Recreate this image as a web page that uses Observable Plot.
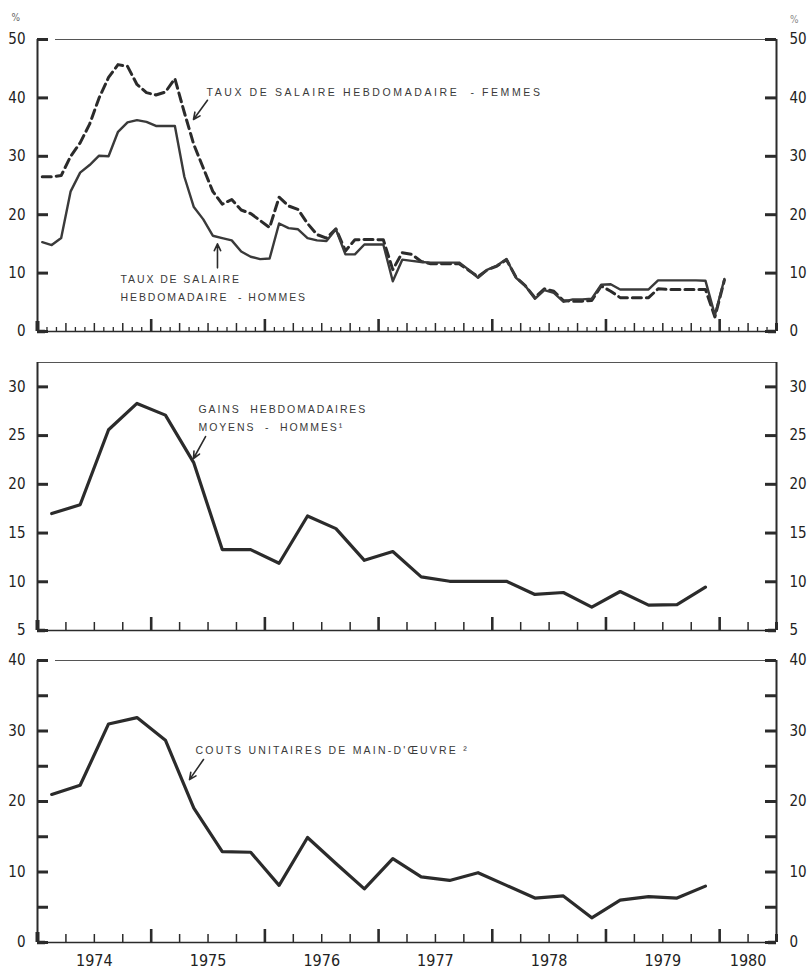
<!DOCTYPE html>
<html><head><meta charset="utf-8">
<script src="https://cdn.jsdelivr.net/npm/d3@7"></script>
<script src="https://cdn.jsdelivr.net/npm/@observablehq/plot@0.6"></script>
<style>
body{margin:0;background:#fff;}
#chart{position:relative;width:810px;height:975px;background:#fff;}
#chart svg{display:block;}
</style></head><body><div id="chart"></div>
<script>
// ---------- DATA ----------
const startYear = 1974;
const yearLabels = ["1974","1975","1976","1977","1978","1979","1980"];
const yearLabelAt = [1974.5,1975.5,1976.5,1977.5,1978.5,1979.5,1980.25];
const yearTicks = [1975,1976,1977,1978,1979,1980];

// monthly, Jan 1974 .. Jan 1980
const hommesHebdo = [15.3,14.8,16.0,24.0,27.2,28.5,30.1,30.0,34.2,35.8,36.2,35.9,
  35.2,35.2,35.2,26.5,21.3,19.2,16.4,16.0,15.6,13.7,12.8,12.4,
  12.5,18.5,17.7,17.5,16.0,15.6,15.5,17.5,13.2,13.2,14.9,14.9,
  14.9,8.6,12.3,12.1,11.9,11.8,11.8,11.8,11.8,10.6,9.2,10.6,
  11.3,12.4,9.2,7.8,5.6,7.1,6.6,5.1,5.5,5.5,5.6,8.0,
  8.1,7.2,7.2,7.2,7.2,8.75,8.75,8.75,8.75,8.75,8.7,2.8,
  9.0];
const femmesHebdo = [26.5,26.5,26.7,30.0,32.3,35.5,40.0,43.5,45.7,45.4,42.3,40.9,
  40.5,41.0,43.3,37.5,32.0,28.0,24.0,21.8,22.6,20.8,20.2,19.0,
  17.8,23.0,21.5,20.9,18.5,16.6,16.0,17.6,13.8,15.7,15.75,15.75,
  15.7,10.6,13.5,13.2,12.0,11.6,11.6,11.6,11.6,10.5,9.4,10.6,
  11.2,12.3,9.3,7.8,5.8,7.3,6.9,5.3,5.2,5.2,5.3,7.8,
  6.9,5.8,5.8,5.8,5.8,7.3,7.2,7.2,7.2,7.2,7.2,2.5,
  8.8];
// quarterly, 1974Q1 .. 1979Q4
const gainsHommes = [17.0,17.9,25.6,28.3, 27.1,22.2,13.3,13.3, 11.9,16.75,15.45,12.2,
  13.1,10.5,10.05,10.05, 10.05,8.7,8.9,7.4, 9.0,7.6,7.65,9.45];
const coutsUnitaires = [21.0,22.3,31.0,31.9, 28.7,19.05,12.9,12.8, 8.1,14.9,11.2,7.6,
  11.9,9.3,8.8,9.9, 8.1,6.3,6.6,3.5, 6.0,6.5,6.3,8.0];

const ticksTop = [0,10,20,30,40,50];
const ticksMid = [5,10,15,20,25,30];
const labelsBot = [0,10,20,30,40];
const ticksBot = [0,5,10,15,20,25,30,35,40];

const labelFemmes = "TAUX DE SALAIRE HEBDOMADAIRE  - FEMMES";
const labelHommes = "TAUX DE SALAIRE\nHEBDOMADAIRE  - HOMMES";
const labelGains = "GAINS  HEBDOMADAIRES\nMOYENS  -  HOMMES\u00b9";
const labelCouts = "COUTS UNITAIRES DE MAIN-D'\u0152UVRE \u00b2";

// ---------- HELPERS ----------
const monthly = arr => arr.map((v,i)=>({x: startYear + (i+0.5)/12, y: v}));
const quarterly = arr => arr.map((v,i)=>({x: startYear + (i+0.5)/4, y: v}));
const monthTicks = d3.range(1, 78).filter(k => k % 3 !== 0).map(k => startYear + k/12);
const quarterTicks = d3.range(1, 26).filter(k => k % 4 !== 0).map(k => startYear + k/4);

const INK = "#2b2b2b";
const FONT = "'Liberation Sans Narrow','DejaVu Sans Condensed','Arial Narrow',sans-serif";
const ANNOT = "'Liberation Sans','Open Sans',sans-serif";
const ML = 37, MR = 34, W = 810;
const X0 = 1974, X1 = 1980.5;

function panel({height, mt, mb, yDomain, labelTicks, tickVals, marks, topInset, minorTicks, minorLen, midTicks, midLen, yearLen, years}) {
  const iw = W - ML - MR, ih = height - mt - mb;
  const m = [
    Plot.ruleY([yDomain[1]], {stroke: "#555", strokeWidth: 1, insetLeft: topInset[0], insetRight: topInset[1]}),
    Plot.ruleY([yDomain[0]], {stroke: INK, strokeWidth: 1.3}),
    Plot.ruleX([X0], {stroke: INK, strokeWidth: 2}),
    Plot.ruleX([X1], {stroke: INK, strokeWidth: 2}),
    Plot.tickY(tickVals, {y: d=>d, stroke: INK, strokeWidth: 3, insetRight: iw - 11}),
    Plot.tickY(tickVals, {y: d=>d, stroke: INK, strokeWidth: 3, insetLeft: iw - 11}),
    // thick corners
    Plot.tickY([yDomain[0]], {y: d=>d, stroke: INK, strokeWidth: 3.5, insetRight: iw - 8}),
    Plot.tickY([yDomain[0]], {y: d=>d, stroke: INK, strokeWidth: 3.5, insetLeft: iw - 8}),
    Plot.tickX([X0], {x: d=>d, stroke: INK, strokeWidth: 4, insetTop: ih - 10}),
    Plot.tickX([X1], {x: d=>d, stroke: INK, strokeWidth: 3, insetTop: ih - 8}),
    Plot.axisY({anchor: "left", ticks: labelTicks, tickSize: 0, tickPadding: 12, label: null, tickFormat: d=>d, fill: "#222"}),
    Plot.axisY({anchor: "right", ticks: labelTicks, tickSize: 0, tickPadding: 13, label: null, tickFormat: d=>d, fill: "#222"})
  ];
  if (minorTicks) m.push(Plot.tickX(minorTicks, {x: d=>d, stroke: INK, strokeWidth: 1.3, insetTop: ih - minorLen}));
  if (midTicks) m.push(Plot.tickX(midTicks, {x: d=>d, stroke: INK, strokeWidth: 1.5, insetTop: ih - midLen}));
  m.push(Plot.tickX(yearTicks, {x: d=>d, stroke: INK, strokeWidth: 2.6, insetTop: ih - yearLen}));
  if (years) m.push(Plot.axisX({anchor: "bottom", ticks: yearLabelAt, tickSize: 0, tickPadding: 12, label: null,
      tickFormat: d => yearLabels[yearLabelAt.indexOf(d)], fill: "#222", fontSize: 16}));
  return Plot.plot({
    width: W, height, marginLeft: ML, marginRight: MR, marginTop: mt, marginBottom: mb,
    x: {domain: [X0, X1], axis: null},
    y: {domain: yDomain, axis: null},
    style: {fontFamily: FONT, fontSize: "15px", background: "#fff", overflow: "visible"},
    marks: [...m, ...marks]
  });
}

function annot(data, opts) {
  return Plot.text(data, {x: "x", y: "y", text: "t", textAnchor: "start", lineAnchor: "middle",
    fontFamily: ANNOT, fontSize: 10.5, fill: "#3a3a3a", lineHeight: 1.7, ...opts});
}
function arrows(data) {
  return Plot.arrow(data, {x1: "x1", y1: "y1", x2: "x2", y2: "y2", stroke: INK, strokeWidth: 1.6, headLength: 7, headAngle: 50});
}

// ---------- PANELS ----------
const p1 = panel({
  height: 345, mt: 39, mb: 14, yDomain: [0, 50], labelTicks: ticksTop, tickVals: ticksTop,
  topInset: [18, 11], minorTicks: monthTicks, minorLen: 4, midTicks: quarterTicks, midLen: 8, yearLen: 12,
  marks: [
    Plot.line(monthly(femmesHebdo), {x: "x", y: "y", stroke: INK, strokeWidth: 3, strokeDasharray: "9,5", strokeLinejoin: "round"}),
    Plot.line(monthly(hommesHebdo), {x: "x", y: "y", stroke: "#3a3a3a", strokeWidth: 2.4, strokeLinejoin: "round"}),
    annot([{x: 1975.486, y: 41.3, t: labelFemmes}, {x: 1974.73, y: 7.8, t: labelHommes}]),
    arrows([{x1: 1975.495, y1: 39.6, x2: 1975.372, y2: 36.3}, {x1: 1975.583, y1: 10.9, x2: 1975.583, y2: 15.0}]),
    Plot.text(["%"], {text: d=>d, frameAnchor: "top-left", dx: -26, dy: -26, fontSize: 10, fill: "#666"}),
    Plot.text(["%"], {text: d=>d, frameAnchor: "top-right", dx: 24, dy: -24, fontSize: 10, fill: "#888"})
  ]
});
const p2 = panel({
  height: 305, mt: 17, mb: 20, yDomain: [5, 32.5], labelTicks: ticksMid, tickVals: ticksMid,
  topInset: [0, 0], midTicks: quarterTicks, midLen: 8, yearLen: 13,
  marks: [
    Plot.line(quarterly(gainsHommes), {x: "x", y: "y", stroke: INK, strokeWidth: 3.2, strokeLinejoin: "round"}),
    annot([{x: 1975.416, y: 27.0, t: labelGains}]),
    arrows([{x1: 1975.478, y1: 24.9, x2: 1975.372, y2: 22.65}])
  ]
});
const p3 = panel({
  height: 325, mt: 10, mb: 33, yDomain: [0, 40], labelTicks: labelsBot, tickVals: ticksBot,
  topInset: [18, 11], midTicks: quarterTicks, midLen: 8, yearLen: 13, years: true,
  marks: [
    Plot.line(quarterly(coutsUnitaires), {x: "x", y: "y", stroke: INK, strokeWidth: 3.2, strokeLinejoin: "round"}),
    annot([{x: 1975.39, y: 27.5, t: labelCouts}]),
    arrows([{x1: 1975.46, y1: 25.96, x2: 1975.337, y2: 23.1}])
  ]
});

const chart = document.getElementById("chart");
for (const p of [p1, p2, p3]) {
  d3.select(p).selectAll('g[aria-label="text"] text').each(function() {
    const s = this.textContent;
    const ls = s.startsWith("TAUX DE SALAIRE HEBDOMADAIRE") ? 2.6 : s.startsWith("COUTS") ? 2.2 : 1.9;
    this.setAttribute("letter-spacing", ls);
  });
  chart.appendChild(p);
}
</script>
</body></html>
